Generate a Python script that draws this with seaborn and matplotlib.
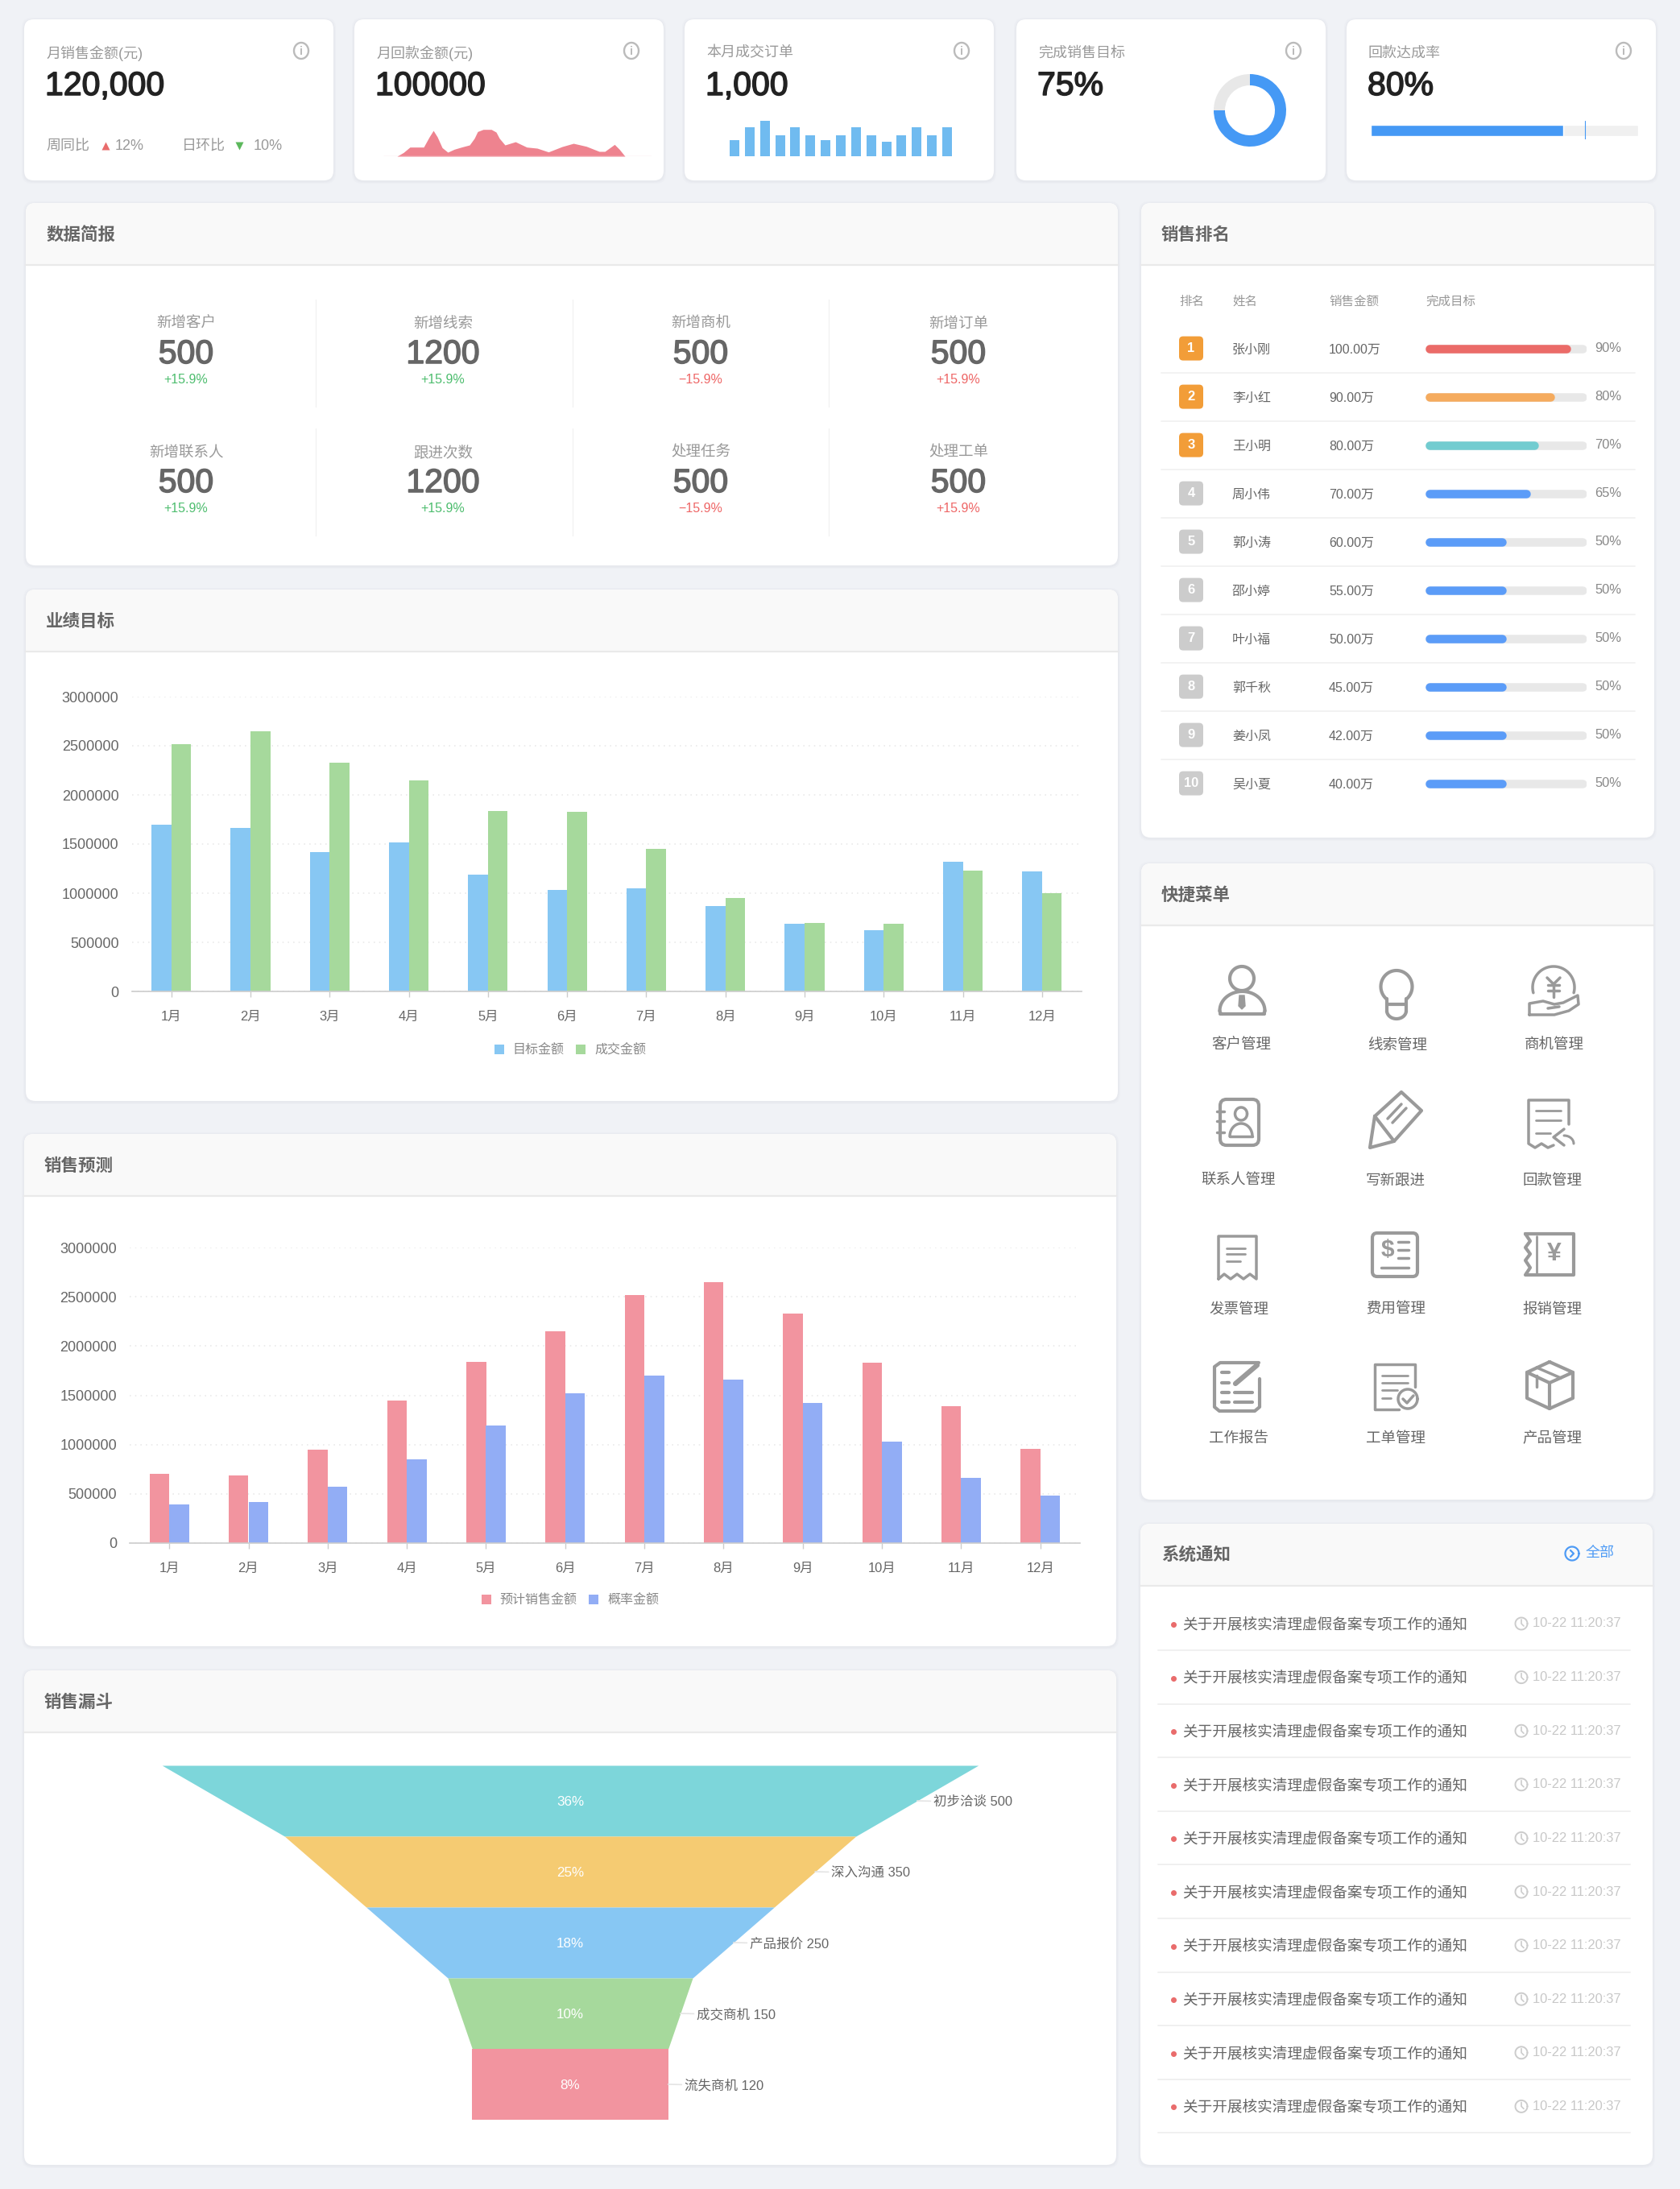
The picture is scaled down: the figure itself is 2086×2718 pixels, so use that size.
import numpy as np
import pandas as pd
import matplotlib
matplotlib.use("Agg")
import matplotlib.pyplot as plt
import matplotlib.patheffects as pe
from matplotlib.patches import Circle, FancyBboxPatch, Rectangle
import seaborn as sns

# canvas size in pixels, everything is placed in pixels
W, H = 2086, 2718

# ---- data ----
months = ["1月", "2月", "3月", "4月", "5月", "6月", "7月", "8月", "9月", "10月", "11月", "12月"]
target_amount = [1700000, 1660000, 1420000, 1520000, 1190000, 1030000, 1050000, 870000, 690000, 620000, 1320000, 1220000]
deal_amount = [2520000, 2650000, 2330000, 2150000, 1840000, 1830000, 1450000, 950000, 700000, 690000, 1230000, 1000000]
forecast_amount = [700000, 690000, 950000, 1450000, 1840000, 2150000, 2520000, 2650000, 2330000, 1830000, 1390000, 960000]
prob_amount = [390000, 420000, 570000, 850000, 1190000, 1520000, 1700000, 1660000, 1420000, 1030000, 660000, 480000]
y_ticks = [0, 500000, 1000000, 1500000, 2000000, 2500000, 3000000]

funnel_names = ["初步洽谈", "深入沟通", "产品报价", "成交商机", "流失商机"]
funnel_values = [500, 350, 250, 150, 120]
funnel_pct = ["36%", "25%", "18%", "10%", "8%"]
funnel_colors = ["#7DD6DA", "#F5CB72", "#87C7F3", "#A6D99C", "#F2949F"]

rank_names = ["张小刚", "李小红", "王小明", "周小伟", "郭小涛", "邵小婷", "叶小福", "郭千秋", "姜小凤", "吴小夏"]
rank_amount = ["100.00万", "90.00万", "80.00万", "70.00万", "60.00万", "55.00万", "50.00万", "45.00万", "42.00万", "40.00万"]
rank_pct = [90, 80, 70, 65, 50, 50, 50, 50, 50, 50]
rank_colors = ["#EB6B68", "#F5AB5E", "#72CCD0"] + ["#5B9CF8"] * 7

brief_labels = [["新增客户", "新增线索", "新增商机", "新增订单"], ["新增联系人", "跟进次数", "处理任务", "处理工单"]]
brief_values = [["500", "1200", "500", "500"], ["500", "1200", "500", "500"]]
brief_change = ["+15.9%", "+15.9%", "−15.9%", "+15.9%"]
brief_change_colors = ["#4DBD6E", "#4DBD6E", "#EE6666", "#EE6666"]

menu_labels = [["客户管理", "线索管理", "商机管理"], ["联系人管理", "写新跟进", "回款管理"],
               ["发票管理", "费用管理", "报销管理"], ["工作报告", "工单管理", "产品管理"]]

notice_text = "关于开展核实清理虚假备案专项工作的通知"
notice_time = "10-22 11:20:37"

# sparkline of card 2 (position, height)
spark_pos = [17, 25, 33, 50, 57, 62, 67, 73, 80, 88, 97, 107, 113, 117, 124, 134, 140, 144, 151, 164, 178, 191, 205, 222, 236, 252, 268, 275, 287, 293, 300]
spark_val = [0, 14, 34, 34, 72, 96, 72, 32, 15, 26, 34, 42, 67, 92, 100, 100, 90, 67, 42, 54, 34, 30, 16, 36, 48, 37, 18, 18, 44, 26, 0]
# bars of card 3
order_bars = [20, 36, 44, 26, 36, 26, 20, 26, 36, 26, 18, 26, 36, 26, 36]
goal_done = [75, 25]
refund_done = 72
refund_mark = 80

GREY_TXT = "#999999"
DARK_TXT = "#666666"
ICON = "#9A9A9A"


def px(size):
    return size * 0.72


sns.set_theme(style="white")
plt.rcParams["font.family"] = ["Liberation Sans", "Noto Sans CJK SC"]
plt.rcParams["axes.unicode_minus"] = False

fig = plt.figure(figsize=(W / 100, H / 100), dpi=100, facecolor="#F0F2F6")
bg = fig.add_axes([0, 0, 1, 1], zorder=0)
bg.set_xlim(0, W)
bg.set_ylim(H, 0)
bg.axis("off")


def inset(x0, y0, x1, y1):
    a = fig.add_axes([x0 / W, 1 - y1 / H, (x1 - x0) / W, (y1 - y0) / H], zorder=2)
    a.patch.set_alpha(0)
    return a


def txt(x, y, s, size, color=DARK_TXT, ha="left", weight="normal"):
    # va=center sits a bit high compared to the browser text
    return bg.text(x, y + 2, s, fontsize=px(size), color=color, ha=ha, va="center", fontweight=weight)


def num(x, y, s, color, ha="left"):
    # medium weight look, the fonts here only have regular and bold
    t = txt(x, y, s, 41, color, ha=ha)
    t.set_path_effects([pe.withStroke(linewidth=1.1, foreground=color)])


def card(x0, y0, x1, y1, title=None, head_bottom=None, title_x=None):
    for grow, al in [(3, 0.25), (1.5, 0.5)]:
        bg.add_patch(FancyBboxPatch((x0 - grow, y0 - grow + 1), x1 - x0 + 2 * grow, y1 - y0 + 2 * grow,
                                    boxstyle="round,pad=0,rounding_size=13", fc="#E4E6EB", ec="none", alpha=al))
    c = FancyBboxPatch((x0, y0), x1 - x0, y1 - y0, boxstyle="round,pad=0,rounding_size=12", fc="white", ec="none")
    bg.add_patch(c)
    if title:
        r = Rectangle((x0, y0), x1 - x0, head_bottom - y0, fc="#F9F9F9", ec="none")
        bg.add_patch(r)
        r.set_clip_path(c)
        bg.plot([x0, x1], [head_bottom, head_bottom], color="#EAEAEA", lw=1.6)
        txt(title_x or x0 + 25, (y0 + head_bottom) / 2 - 1, title, 21.5, DARK_TXT, weight="bold")


def line(pts, lw=2.5, color=ICON):
    xs, ys = zip(*pts)
    bg.plot(xs, ys, color=color, lw=lw, solid_capstyle="round", solid_joinstyle="round")


def arc(cx, cy, rx, ry, a0, a1, lw=2.5, color=ICON):
    t = np.radians(np.linspace(a0, a1, 60))
    bg.plot(cx + rx * np.cos(t), cy - ry * np.sin(t), color=color, lw=lw, solid_capstyle="round")


def rrect(x0, y0, x1, y1, r=6, lw=2.5, color=ICON):
    bg.add_patch(FancyBboxPatch((x0, y0), x1 - x0, y1 - y0, boxstyle=f"round,pad=0,rounding_size={r}",
                                fc="none", ec=color, lw=lw))


def info(x, y):
    arc(x, y, 9, 10, 0, 360, lw=1.7, color="#BBBBBB")
    bg.text(x, y + 1, "i", fontsize=px(15), color="#BBBBBB", ha="center", va="center", fontweight="bold")


# ---- top row cards ----
top_cards = [(30, 414), (440, 824), (850, 1234), (1262, 1646), (1672, 2056)]
top_titles = ["月销售金额(元)", "月回款金额(元)", "本月成交订单", "完成销售目标", "回款达成率"]
top_numbers = ["120,000", "100000", "1,000", "75%", "80%"]
for (x0, x1), t, n in zip(top_cards, top_titles, top_numbers):
    card(x0, 24, x1, 224)
    txt(x0 + 27, 64, t, 18, GREY_TXT)
    num(x0 + 26, 105, n, "#222222")
    info(x0 + 344, 63)

txt(57, 180, "周同比", 18, GREY_TXT)
bg.plot(131, 181, marker="^", ms=px(10), color="#E96C6C", mec="none")
txt(143, 180, "12%", 18, GREY_TXT)
txt(226, 180, "日环比", 18, GREY_TXT)
bg.plot(297, 181, marker="v", ms=px(10), color="#5CB85C", mec="none")
txt(315, 180, "10%", 18, GREY_TXT)

a = inset(476, 160.7, 809, 194)
a.hlines(1, 0, 333, color="#F8DADF", lw=1)
a.fill_between(spark_pos, spark_val, 0, color="#EE838F", lw=0)
a.set_xlim(0, 333)
a.set_ylim(0, 100)
a.axis("off")

a = inset(902.5, 150, 1185.5, 194)
sns.barplot(x=list(range(len(order_bars))), y=order_bars, color="#70BBF0", saturation=1, width=0.636, linewidth=0, ax=a)
a.set_xlim(-0.5, len(order_bars) - 0.5)
a.set_ylim(0, 44)
a.axis("off")

a = inset(1502, 87, 1602, 187)
a.pie(goal_done, colors=["#4599F5", "#E8E8E8"], startangle=90, counterclock=False, radius=0.9,
      wedgeprops={"width": 0.28, "linewidth": 0})
a.set_xlim(-1, 1)
a.set_ylim(-1, 1)

a = inset(1702, 150, 2034, 173)
a.barh([0], [100], height=14 / 23, color="#F0F0F0")
a.barh([0], [refund_done], height=14 / 23, color="#4599F5")
a.axvline(refund_mark, color="#4599F5", lw=0.8)
a.set_xlim(0, 100)
a.set_ylim(-0.5, 0.5)
a.axis("off")

# ---- 数据简报 ----
card(32, 252, 1388, 702, "数据简报", 329)
col_x = [231, 550, 870, 1190]
for r, dy in enumerate([0, 160]):
    for x, lab, val, ch, chc in zip(col_x, brief_labels[r], brief_values[r], brief_change, brief_change_colors):
        txt(x, 400 + dy, lab, 18.5, GREY_TXT, ha="center")
        num(x, 438 + dy, val, DARK_TXT, ha="center")
        txt(x, 470 + dy, ch, 16, chc, ha="center")
    for x in [392, 711, 1029]:
        bg.plot([x, x], [372 + dy, 505 + dy], color="#F2F2F2", lw=1)


# ---- grouped bar charts ----
def month_bars(ax, series, colors, legend_y):
    df = pd.DataFrame({"month": months * 2,
                       "amount": list(series[0][1]) + list(series[1][1]),
                       "kind": [series[0][0]] * 12 + [series[1][0]] * 12})
    sns.barplot(data=df, x="month", y="amount", hue="kind", palette=colors, saturation=1,
                width=0.5, gap=0, linewidth=0, ax=ax)
    ax.set_xlim(-0.5, 11.5)
    ax.set_ylim(0, 3000000)
    ax.set_yticks(y_ticks)
    ax.set_yticklabels([str(v) for v in y_ticks])
    ax.set(xlabel="", ylabel="")
    ax.set_axisbelow(True)
    ax.grid(axis="y", color="#EAEAEA", lw=1.2, ls=(0, (1, 3)))
    sns.despine(ax=ax, left=True)
    ax.spines["bottom"].set_color("#CCCCCC")
    ax.spines["bottom"].set_linewidth(1.2)
    ax.tick_params(axis="x", length=px(7), color="#CCCCCC", width=1, pad=px(17), labelsize=px(16.5), labelcolor=DARK_TXT, bottom=True)
    ax.tick_params(axis="y", length=0, pad=px(16), labelsize=px(18), labelcolor=DARK_TXT)
    handles, labels = ax.get_legend_handles_labels()
    ax.legend(handles, labels, ncols=2, loc="center", bbox_to_anchor=(708 / W, 1 - (legend_y + 2) / H),
              bbox_transform=fig.transFigure, frameon=False, fontsize=px(16), labelcolor="#888888",
              handlelength=0.75, handleheight=0.75, handletextpad=0.7, columnspacing=0.9)


card(32, 732, 1388, 1367, "业绩目标", 809)
month_bars(inset(163.5, 865, 1343, 1231), [("目标金额", target_amount), ("成交金额", deal_amount)],
           ["#87C7F3", "#A6D99C"], 1302)

card(30, 1408, 1386, 2044, "销售预测", 1485)
month_bars(inset(161, 1549, 1341, 1916), [("预计销售金额", forecast_amount), ("概率金额", prob_amount)],
           ["#F2949F", "#92ADF5"], 1985)

# ---- 销售漏斗 ----
card(30, 2074, 1386, 2688, "销售漏斗", 2151)
a = inset(30, 2192, 1386, 2632)
for i, v in enumerate(funnel_values):
    nxt = funnel_values[i + 1] if i + 1 < len(funnel_values) else v
    a.fill_betweenx([i, i + 1], [-v, -nxt], [v, nxt], color=funnel_colors[i], lw=0)
    a.annotate(funnel_pct[i], xy=(0, i + 0.5), xytext=(0, -1.2), textcoords="offset points",
               color="white", ha="center", va="center", fontsize=px(17))
    a.annotate(f"{funnel_names[i]} {v}", xy=((v + nxt) / 2, i + 0.5), xytext=(px(20), -1.2), textcoords="offset points",
               ha="left", va="center", fontsize=px(16.5), color=DARK_TXT,
               arrowprops={"arrowstyle": "-", "color": "#E4E4E4", "lw": 1.2, "shrinkA": 0, "shrinkB": 0})
a.set_xlim(-669, 669)
a.set_ylim(len(funnel_values), 0)
a.axis("off")

# ---- 销售排名 ----
card(1417, 252, 2054, 1040, "销售排名", 329)
for x, t in zip([1464, 1530, 1650, 1770], ["排名", "姓名", "销售金额", "完成目标"]):
    txt(x, 372, t, 15.5, GREY_TXT)
rows_y = [432.6 + 60 * i for i in range(len(rank_names))]
for i, y in enumerate(rows_y):
    badge = "#F29D38" if i < 3 else "#CCCCCC"
    bg.add_patch(FancyBboxPatch((1464, y - 15), 30, 30, boxstyle="round,pad=0,rounding_size=5", fc=badge, ec="none"))
    txt(1479, y - 2, str(i + 1), 16.5, "white", ha="center", weight="bold")
    txt(1530, y, rank_names[i], 16)
    txt(1650, y, rank_amount[i], 16)
    txt(1980, y - 2, f"{rank_pct[i]}%", 16.5, "#888888")
    if i < len(rank_names) - 1:
        bg.plot([1442, 2030], [y + 30, y + 30], color="#F2F2F2", lw=1.4)

# rounded progress bars, cap radius is 5px = 2.5 units here
a = inset(1770, rows_y[0] - 30, 1970, rows_y[-1] + 30)
ypos = np.arange(len(rank_pct))
a.hlines(ypos, 2.5, 97.5, color="#E8E8E8", lw=px(10.5), capstyle="round")
a.hlines(ypos, 2.5, np.array(rank_pct) - 2.5, colors=rank_colors, lw=px(10.5), capstyle="round")
a.set_xlim(0, 100)
a.set_ylim(len(rank_pct) - 0.5, -0.5)
a.axis("off")

# ---- 快捷菜单 ----
card(1417, 1072, 2053, 1862, "快捷菜单", 1149)
menu_x = [[1541, 1735, 1930], [1538, 1733, 1927], [1538, 1733, 1927], [1538, 1733, 1927]]
menu_y = [1296, 1464, 1624, 1784]
for r in range(4):
    for x, t in zip(menu_x[r], menu_labels[r]):
        txt(x, menu_y[r], t, 18.5, DARK_TXT, ha="center")

# customer
arc(1542, 1215, 15, 15, 0, 360, lw=3)
line([(1515, 1259), (1570, 1259)], lw=3)
arc(1542.5, 1255, 28, 24, 0, 180, lw=3)
arc(1518, 1255, 3.5, 4, 180, 270, lw=3)
arc(1567, 1255, 3.5, 4, 270, 360, lw=3)
bg.fill([1539, 1545, 1546, 1542, 1538], [1236, 1236, 1249, 1253, 1249], color=ICON)
# bulb
arc(1734, 1225, 19.5, 20, -50, 230, lw=3)
line([(1722, 1240), (1722, 1256)], lw=3)
line([(1746, 1240), (1746, 1256)], lw=3)
line([(1722, 1247), (1746, 1247)], lw=3)
arc(1734, 1255, 12, 10, 180, 360, lw=3)
# coin + hand
arc(1929, 1226, 26, 26, -15, 195)
line([(1921, 1214), (1929, 1222), (1937, 1214)])
line([(1922, 1223), (1936, 1223)])
line([(1922, 1230), (1936, 1230)])
line([(1929, 1222), (1929, 1238)])
line([(1899, 1260), (1899, 1246), (1916, 1243), (1930, 1247), (1941, 1245), (1959, 1236), (1960, 1247), (1948, 1255), (1930, 1260), (1899, 1260)])
line([(1922, 1252), (1936, 1250)])
# contact book
rrect(1515, 1365, 1563, 1422, r=8, lw=3)
for ry in [1380, 1392, 1406]:
    line([(1511, ry), (1520, ry)])
arc(1541, 1383, 7.5, 8, 0, 360)
arc(1541, 1411, 14, 16, 0, 180)
line([(1527, 1411), (1555, 1411)])
# pencil
line([(1707, 1386), (1740, 1356), (1765, 1379), (1731, 1417), (1701, 1425), (1707, 1386)], lw=3)
line([(1707, 1386), (1731, 1417)], lw=3)
line([(1723, 1389), (1740, 1371)])
line([(1729, 1394), (1746, 1376)])
# payment doc
line([(1948, 1396), (1948, 1366), (1898, 1366), (1898, 1420), (1906, 1425), (1914, 1420), (1922, 1425), (1929, 1422)])
for ry, xe in [(1379, 1938), (1391, 1938), (1407, 1925)]:
    line([(1907, ry), (xe, ry)], lw=2)
line([(1942, 1402), (1929, 1412), (1942, 1422)])
arc(1942, 1420, 12, 10, 0, 90, lw=2.2)
# invoice
line([(1513, 1588), (1513, 1535), (1560, 1535), (1560, 1588), (1552, 1582), (1544, 1588), (1536, 1582), (1528, 1588), (1520, 1582), (1513, 1588)])
for ry, xe in [(1550, 1546), (1557, 1546), (1566, 1540)]:
    line([(1523, ry), (xe, ry)], lw=2)
# fee
rrect(1704, 1531, 1760, 1585, r=6, lw=3)
bg.text(1723, 1552, "$", fontsize=px(30), color=ICON, ha="center", va="center", fontweight="bold")
for ry in [1542, 1552, 1562]:
    line([(1736, ry), (1749, ry)])
line([(1715, 1574), (1749, 1574)])
# expense ticket
line([(1894, 1532), (1954, 1532), (1954, 1583), (1894, 1583), (1900, 1574), (1894, 1565), (1900, 1557), (1894, 1549), (1900, 1541), (1894, 1532)], lw=3)
line([(1908, 1535), (1908, 1581)], lw=2)
bg.text(1930, 1557, "¥", fontsize=px(32), color=ICON, ha="center", va="center", fontweight="bold")
# report
line([(1563, 1692), (1515, 1692), (1508, 1697), (1508, 1747), (1514, 1752), (1558, 1752), (1564, 1747), (1564, 1712)], lw=3)
for ry, xs, xe in [(1704, 1517, 1526), (1717, 1517, 1526), (1729, 1517, 1526), (1729, 1533, 1555), (1741, 1517, 1526), (1741, 1533, 1555)]:
    line([(xs, ry), (xe, ry)], lw=3)
line([(1534, 1718), (1561, 1695)], lw=4.5)
# work order
line([(1737, 1750), (1707, 1750), (1707, 1694), (1757, 1694), (1757, 1722)])
for ry, xe in [(1708, 1748), (1717, 1748), (1726, 1735), (1736, 1727)]:
    line([(1716, ry), (xe, ry)], lw=2)
arc(1748, 1737, 12, 12, 0, 360)
line([(1742, 1737), (1747, 1742), (1755, 1733)])
# box
line([(1924, 1691), (1953, 1704), (1953, 1736), (1924, 1749), (1896, 1736), (1896, 1704), (1924, 1691)], lw=3)
line([(1896, 1704), (1924, 1717), (1953, 1704)], lw=3)
line([(1924, 1717), (1924, 1749)], lw=3)
line([(1908, 1698), (1938, 1711)])
line([(1908, 1708), (1908, 1722)])

# ---- 系统通知 ----
card(1416, 1892, 2052, 2688, "系统通知", 1969, title_x=1442)
arc(1952, 1929, 8.5, 8.5, 0, 360, lw=1.6, color="#4E9BF5")
line([(1950, 1925), (1954, 1929), (1950, 1933)], lw=1.6, color="#4E9BF5")
txt(1969, 1927, "全部", 18, "#4E9BF5")
for i in range(10):
    y = 2017 + 66.6 * i
    bg.plot(1456.5, y, "o", ms=px(7), color="#E96C6C", mec="none")
    txt(1468, y - 2, notice_text, 18.6)
    arc(1889, y - 1, 7.5, 7.5, 0, 360, lw=1.4, color="#CCCCCC")
    line([(1889, y - 6), (1889, y - 1), (1892, y + 2)], lw=1.2, color="#CCCCCC")
    txt(1903, y - 3, notice_time, 16.5, "#C8C8C8")
    bg.plot([1438, 2024], [y + 32, y + 32], color="#F0F0F0", lw=1.4)

fig.savefig("out.png", dpi=100, facecolor=fig.get_facecolor())
